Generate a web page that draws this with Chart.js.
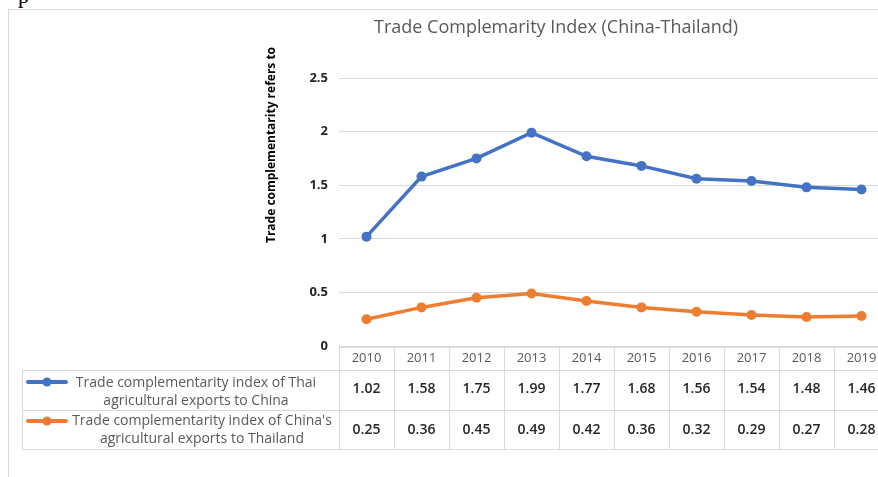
<!DOCTYPE html>
<html>
<head>
<meta charset="utf-8">
<script src="https://cdn.jsdelivr.net/npm/chart.js@4/dist/chart.umd.min.js"></script>
<style>
  html, body { margin:0; padding:0; background:#fff; overflow:hidden; width:878px; height:477px; }
  #frame { position:absolute; left:8px; top:9px; width:900px; height:500px; border-top:1px solid #d9d9d9; border-left:1px solid #d9d9d9; }
  #glyph { position:absolute; left:18px; top:-17px; font-family:"Liberation Serif", serif; font-size:22px; color:#000; }
  #c { position:absolute; left:0; top:0; }
</style>
</head>
<body>
<div id="glyph">p</div>
<div id="frame"></div>
<canvas id="c" width="900" height="477"></canvas>
<script>
const chartTitle = 'Trade Complemarity Index (China-Thailand)';
const yAxisTitle = 'Trade complementarity refers to';
const years = ['2010','2011','2012','2013','2014','2015','2016','2017','2018','2019'];
const thaiToChina = [1.02,1.58,1.75,1.99,1.77,1.68,1.56,1.54,1.48,1.46];
const chinaToThai = [0.25,0.36,0.45,0.49,0.42,0.36,0.32,0.29,0.27,0.28];
const seriesNames = [
  ['Trade complementarity index of Thai', 'agricultural exports to China'],
  ["Trade complementarity index of China's", 'agricultural exports to Thailand']
];
const seriesColors = ['#4472C4', '#ED7D31'];

const extras = {
  id: 'extras',
  afterDraw(chart) {
    const ctx = chart.ctx;
    const xs = chart.scales.x;
    ctx.save();
    // main title
    ctx.fillStyle = '#595959';
    ctx.font = '18px "Open Sans"';
    ctx.textAlign = 'center';
    ctx.textBaseline = 'middle';
    ctx.fillText(chartTitle, 556, 28);
    // y axis title
    ctx.save();
    ctx.translate(272, 145);
    ctx.rotate(-Math.PI / 2);
    ctx.font = 'bold 12px "Open Sans"';
    ctx.fillStyle = '#000';
    ctx.fillText(yAxisTitle, 0, 0);
    ctx.restore();

    // data table
    const rowTop = 347, rowHead = 370, row1 = 410, row2 = 449;
    const half = (xs.getPixelForValue(1) - xs.getPixelForValue(0)) / 2;
    const left = xs.getPixelForValue(0) - half;
    const right = xs.getPixelForValue(years.length - 1) + half;
    const legLeft = 22;
    ctx.strokeStyle = '#d9d9d9';
    ctx.lineWidth = 1;
    ctx.beginPath();
    ctx.moveTo(left, rowTop + 0.5); ctx.lineTo(right, rowTop + 0.5);
    ctx.moveTo(legLeft, rowHead + 0.5); ctx.lineTo(right, rowHead + 0.5);
    ctx.moveTo(legLeft, row1 + 0.5); ctx.lineTo(right, row1 + 0.5);
    ctx.moveTo(legLeft, row2 + 0.5); ctx.lineTo(right, row2 + 0.5);
    ctx.moveTo(legLeft + 0.5, rowHead); ctx.lineTo(legLeft + 0.5, row2);
    for (let i = 0; i <= years.length; i++) {
      const x = Math.round(left + i * 2 * half) + 0.5;
      ctx.moveTo(x, rowTop); ctx.lineTo(x, row2);
    }
    ctx.stroke();

    ctx.textAlign = 'center';
    ctx.textBaseline = 'middle';
    years.forEach((y, i) => {
      const cx = xs.getPixelForValue(i);
      ctx.font = '13px "Open Sans"';
      ctx.fillStyle = '#595959';
      ctx.fillText(y, cx, 358);
      ctx.font = '600 14px "Open Sans"';
      ctx.fillStyle = '#262626';
      ctx.fillText(thaiToChina[i].toFixed(2), cx, 389);
      ctx.fillText(chinaToThai[i].toFixed(2), cx, 430);
    });

    // legend cells
    const legendRows = [
      { y: 382, lines: [383, 401], cx: 196 },
      { y: 421, lines: [421, 439], cx: 202 }
    ];
    legendRows.forEach((r, k) => {
      ctx.strokeStyle = seriesColors[k];
      ctx.lineWidth = 4;
      ctx.lineCap = 'round';
      ctx.beginPath();
      ctx.moveTo(28, r.y); ctx.lineTo(66, r.y);
      ctx.stroke();
      ctx.fillStyle = seriesColors[k];
      ctx.beginPath();
      ctx.arc(47, r.y, 4.5, 0, Math.PI * 2);
      ctx.fill();
      ctx.fillStyle = '#595959';
      ctx.font = '14px "Open Sans"';
      ctx.fillText(seriesNames[k][0], r.cx, r.lines[0]);
      ctx.fillText(seriesNames[k][1], r.cx, r.lines[1]);
    });
    ctx.restore();
  }
};

new Chart(document.getElementById('c'), {
  type: 'line',
  data: {
    labels: years,
    datasets: [
      { label: seriesNames[0].join(' '), data: thaiToChina, borderColor: seriesColors[0], backgroundColor: seriesColors[0],
        borderWidth: 3.5, pointRadius: 5, pointBorderWidth: 0, pointBackgroundColor: seriesColors[0], tension: 0 },
      { label: seriesNames[1].join(' '), data: chinaToThai, borderColor: seriesColors[1], backgroundColor: seriesColors[1],
        borderWidth: 3.5, pointRadius: 5, pointBorderWidth: 0, pointBackgroundColor: seriesColors[1], tension: 0 }
    ]
  },
  options: {
    responsive: false,
    animation: false,
    devicePixelRatio: 1,
    layout: { padding: { left: 0, top: 78, right: 11, bottom: 131 } },
    plugins: { legend: { display: false }, title: { display: false }, tooltip: { enabled: false } },
    scales: {
      x: { type: 'category', offset: true, display: false },
      y: {
        min: 0, max: 2.5,
        ticks: { stepSize: 0.5, padding: 11, color: '#262626', font: { family: 'Open Sans', size: 13, weight: 'bold' },
                 callback: (v) => String(Math.round(v * 10) / 10) },
        grid: { color: '#d9d9d9', drawTicks: false },
        border: { display: false },
        afterFit(scale) { scale.width = 339; }
      }
    }
  },
  plugins: [extras]
});
</script>
</body>
</html>
